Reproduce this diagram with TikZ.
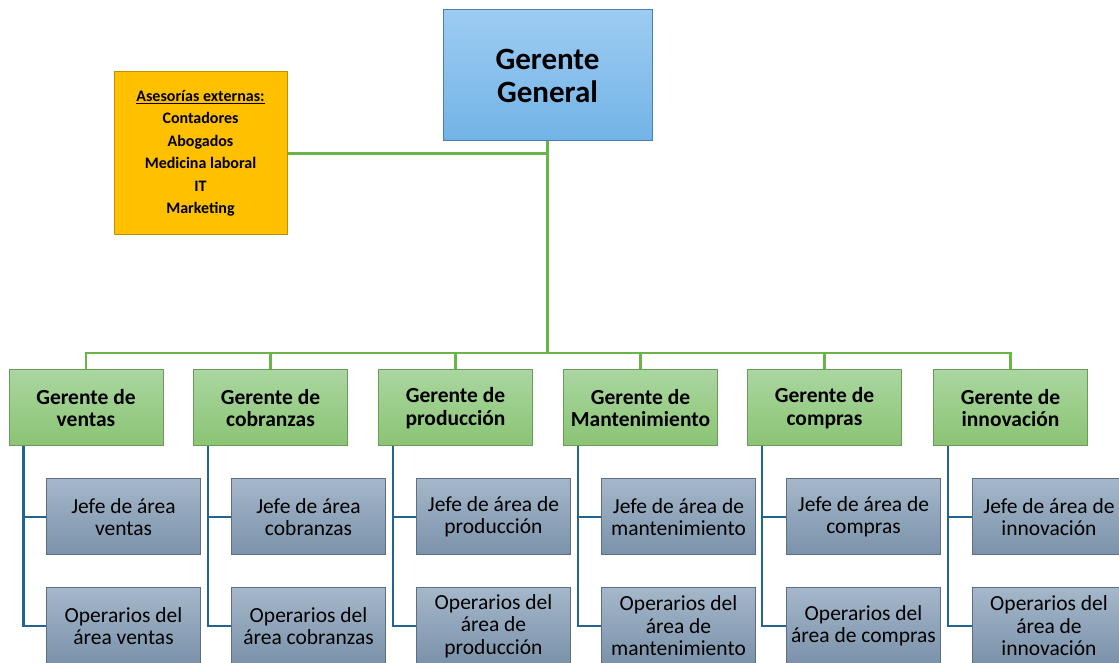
\documentclass[tikz,border=0pt]{standalone}
\usepackage{fontspec}
\setmainfont{Carlito}
\usepackage{xcolor}
\usetikzlibrary{positioning}

\definecolor{ggtop}{HTML}{9DCCF2}
\definecolor{ggbot}{HTML}{72B3E6}
\definecolor{ggline}{HTML}{4A7FB0}
\definecolor{asefill}{HTML}{FFC000}
\definecolor{aseline}{HTML}{BF9000}
\definecolor{mgtop}{HTML}{AAD6A0}
\definecolor{mgbot}{HTML}{8AC474}
\definecolor{mgline}{HTML}{6A9C58}
\definecolor{subtop}{HTML}{A5B7CA}
\definecolor{subbot}{HTML}{7A92AA}
\definecolor{subline}{HTML}{5E6E7E}
\definecolor{busgreen}{HTML}{6AB547}
\definecolor{busteal}{HTML}{22638F}

\begin{document}
\begin{tikzpicture}[x=1pt, y=1pt,
				gen/.style={draw=ggline, line width=1pt, top color=ggtop, bottom color=ggbot,
					minimum width=209pt, minimum height=131pt, align=center,
					font=\fontsize{31}{33}\selectfont\bfseries},
				ase/.style={draw=aseline, line width=1pt, fill=asefill,
					minimum width=173pt, minimum height=163pt, align=center,
					font=\fontsize{16}{22.5}\selectfont\bfseries},
				mgr/.style={draw=mgline, line width=1pt, top color=mgtop, bottom color=mgbot,
					minimum width=154pt, minimum height=76pt, align=center, inner sep=1pt,
					font=\fontsize{21.5}{22.5}\selectfont\bfseries},
				sub/.style={draw=subline, line width=1pt, top color=subtop, bottom color=subbot,
					minimum width=154pt, minimum height=76pt, align=center, inner sep=1pt,
					font=\fontsize{21.5}{22.5}\selectfont},
				greenline/.style={draw=busgreen, line width=2.6pt},
				tealline/.style={draw=busteal, line width=2.6pt}]
				\useasboundingbox (0,0) rectangle (1119,663);
				\clip (0,0) rectangle (1119,663);
				% top level
				\node at (547.5,587.5) (gg) [gen] {Gerente\\General};
				\node at (200.5,509.5) (ase) [ase] {\underline{Asesorías externas:}\\Contadores\\Abogados\\Medicina laboral\\IT\\Marketing};
				\coordinate (bus) at (547.5,310);
				% managers
				\node at (86,255) (gv) [mgr] {Gerente de\\ventas};
				\node at (270.5,255) (gc) [mgr] {Gerente de\\cobranzas};
				\node at (455.5,255) (gp) [mgr] {Gerente de\\producción};
				\node at (640.5,255) (gm) [mgr] {Gerente de\\Mantenimiento};
				\node at (824.5,255) (gco) [mgr] {Gerente de\\compras};
				\node at (1010.5,255) (gi) [mgr] {Gerente de\\innovación};
				% heads
				\node at (123.5,146) (jv) [sub] {Jefe de área\\ventas};
				\node at (308.5,146) (jc) [sub] {Jefe de área\\cobranzas};
				\node at (493.5,146) (jp) [sub] {Jefe de área de\\producción};
				\node at (678.5,146) (jm) [sub] {Jefe de área de\\mantenimiento};
				\node at (863.5,146) (jco) [sub] {Jefe de área de\\compras};
				\node at (1049,146) (ji) [sub] {Jefe de área de\\innovación};
				% workers
				\node at (123.5,37) (ov) [sub] {Operarios del\\área ventas};
				\node at (308.5,37) (oc) [sub] {Operarios del\\área cobranzas};
				\node at (493.5,37) (op) [sub] {Operarios del\\área de\\producción};
				\node at (678.5,37) (om) [sub] {Operarios del\\área de\\mantenimiento};
				\node at (863.5,37) (oco) [sub] {Operarios del\\área de compras};
				\node at (1049,37) (oi) [sub] {Operarios del\\área de\\innovación};
				% green links
				\draw[greenline] (gg.south) |- (ase.east);
				\draw[greenline] (gg.south) -- (bus);
				\draw[greenline] (bus) -| (gv.north);
				\draw[greenline] (bus) -| (gc.north);
				\draw[greenline] (bus) -| (gp.north);
				\draw[greenline] (bus) -| (gm.north);
				\draw[greenline] (bus) -| (gco.north);
				\draw[greenline] (bus) -| (gi.north);
				% teal links
				\draw[tealline] ([xshift=15pt]gv.south west) |- (jv.west);
				\draw[tealline] ([xshift=15pt]gv.south west) |- (ov.west);
				\draw[tealline] ([xshift=15pt]gc.south west) |- (jc.west);
				\draw[tealline] ([xshift=15pt]gc.south west) |- (oc.west);
				\draw[tealline] ([xshift=15pt]gp.south west) |- (jp.west);
				\draw[tealline] ([xshift=15pt]gp.south west) |- (op.west);
				\draw[tealline] ([xshift=15pt]gm.south west) |- (jm.west);
				\draw[tealline] ([xshift=15pt]gm.south west) |- (om.west);
				\draw[tealline] ([xshift=15pt]gco.south west) |- (jco.west);
				\draw[tealline] ([xshift=15pt]gco.south west) |- (oco.west);
				\draw[tealline] ([xshift=15pt]gi.south west) |- (ji.west);
				\draw[tealline] ([xshift=15pt]gi.south west) |- (oi.west);
			\end{tikzpicture}
\end{document}
